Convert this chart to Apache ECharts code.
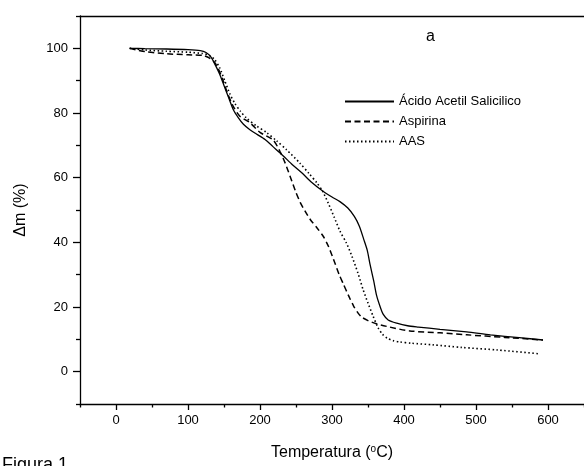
<!DOCTYPE html>
<html>
<head>
<meta charset="utf-8">
<script src="https://cdn.jsdelivr.net/npm/echarts@6/dist/echarts.min.js"></script>
<style>
html,body{margin:0;padding:0;background:#fff;}
#chart{width:584px;height:466px;}
</style>
</head>
<body>
<div id="chart"></div>
<script>
// ---- data ----
const seriesNames = ['Ácido Acetil Salicilico', 'Aspirina', 'AAS'];

const acidoT = [19, 40, 70, 100, 117, 125, 132, 138, 144, 150, 156, 163, 170, 177, 186, 195, 207, 218, 232, 245, 258, 272, 288, 300, 311, 322, 331, 338, 344, 349, 353, 358, 362, 367, 371, 378, 390, 405, 420, 450, 487, 520, 560, 593];
const acidoM = [100, 99.9, 99.8, 99.6, 99.3, 98.7, 97.3, 94.8, 92, 88.5, 85, 81, 78.5, 76.5, 74.8, 73.5, 71.8, 69.6, 66.8, 64, 61.5, 58.5, 55.7, 54, 52.6, 50.6, 48, 45, 41, 37.5, 33, 28, 23.5, 20, 17.8, 16, 15, 14.2, 13.8, 13.1, 12.3, 11.4, 10.5, 9.8];

const aspirinaT = [19, 40, 71, 100, 121, 130, 137, 142, 148, 155, 163, 172, 186, 200, 218, 228, 235, 242, 249, 256, 263, 270, 279, 288, 295, 302, 310, 316, 323, 330, 336, 341, 350, 362, 380, 408, 450, 487, 540, 593];
const aspirinaM = [100, 99, 98.3, 98, 97.8, 97, 95.6, 93.7, 90.5, 86, 82, 79, 77, 74, 71.7, 68, 64.5, 60.3, 56, 52.3, 49.5, 47, 44.5, 41.8, 38.8, 34.8, 30, 27, 23.5, 20.3, 18.2, 16.9, 15.8, 14.8, 13.8, 12.6, 12, 11.4, 10.6, 9.8];

const aasT = [19, 40, 70, 100, 120, 130, 137, 144, 151, 158, 165, 173, 181, 195, 209, 223, 237, 255, 268, 279, 287, 295, 303, 311, 320, 328, 336, 343, 350, 357, 364, 370, 377, 385, 394, 410, 440, 480, 530, 589];
const aasM = [100, 99.5, 99.1, 98.8, 98.4, 97.8, 96.5, 94, 90, 86, 83, 80.5, 78.5, 76, 74, 71.4, 68.6, 64.6, 61.3, 58.4, 55.8, 52, 47.8, 43.5, 39.8, 35.5, 30.5, 25.5, 21.2, 17.2, 13.6, 11.6, 10.3, 9.6, 9.2, 8.8, 8.3, 7.5, 6.7, 5.5];

const xTicks = [0, 100, 200, 300, 400, 500, 600];
const xMinorTicks = [-50, 50, 150, 250, 350, 450, 550, 650];
const yTicks = [0, 20, 40, 60, 80, 100];
const yMinorTicks = [-10, 10, 30, 50, 70, 90, 110];

// ---- chart ----
const zip = (xs, ys) => xs.map((x, i) => [x, ys[i]]);
const FONT = '"Liberation Sans", Arial, sans-serif';
const black = '#000';

const chart = echarts.init(document.getElementById('chart'), null, {renderer: 'canvas'});

const axisLineStyle = {color: black, width: 1.3};

chart.setOption({
  animation: false,
  backgroundColor: '#fff',
  grid: {left: 80, right: 0, top: 16, bottom: 60, containLabel: false},
  legend: {
    orient: 'vertical',
    left: 344,
    top: 95,
    itemWidth: 49,
    itemHeight: 12,
    itemGap: 7,
    padding: 0,
    itemStyle: {color: 'rgba(0,0,0,0)', borderWidth: 0, opacity: 0},
    textStyle: {fontFamily: FONT, fontSize: 13, color: black},
    data: seriesNames
  },
  graphic: [
    {type: 'text', left: 426, top: 29, style: {text: 'a', font: '16px ' + FONT, fill: black}},
    {type: 'text', left: 2, top: 456, style: {text: 'Figura 1', font: '18px ' + FONT, fill: black}}
  ],
  xAxis: [
    {
      type: 'value', min: -50, max: 650, position: 'bottom',
      axisLine: {show: true, onZero: false, lineStyle: axisLineStyle},
      axisTick: {show: true, length: 6, lineStyle: {color: black, width: 1.3}, customValues: xTicks},
      axisLabel: {show: true, customValues: xTicks, color: black, fontFamily: FONT, fontSize: 13, margin: 10},
      splitLine: {show: false},
      name: 'Temperatura ({sup|o}C)',
      nameLocation: 'middle',
      nameGap: 40,
      nameTextStyle: {
        fontFamily: FONT, fontSize: 16, color: black,
        rich: {sup: {fontFamily: FONT, fontSize: 10, color: black, verticalAlign: 'top', padding: [0, 0, 8, 0]}}
      }
    },
    {
      type: 'value', min: -50, max: 650, position: 'bottom',
      axisLine: {show: false, onZero: false},
      axisTick: {show: true, length: 3.5, lineStyle: {color: black, width: 1.3}, customValues: xMinorTicks},
      axisLabel: {show: false},
      splitLine: {show: false}
    },
    {
      type: 'value', min: -50, max: 650, position: 'top',
      axisLine: {show: true, onZero: false, lineStyle: axisLineStyle},
      axisTick: {show: false},
      axisLabel: {show: false},
      splitLine: {show: false}
    }
  ],
  yAxis: [
    {
      type: 'value', min: -10, max: 110, position: 'left',
      axisLine: {show: true, onZero: false, lineStyle: axisLineStyle},
      axisTick: {show: true, length: 7, lineStyle: {color: black, width: 1.3}, customValues: yTicks},
      axisLabel: {show: true, customValues: yTicks, color: black, fontFamily: FONT, fontSize: 13, margin: 12},
      splitLine: {show: false},
      name: 'Δm (%)',
      nameLocation: 'middle',
      nameRotate: 90,
      nameGap: 51,
      nameTextStyle: {fontFamily: FONT, fontSize: 16, color: black}
    },
    {
      type: 'value', min: -10, max: 110, position: 'left',
      axisLine: {show: false, onZero: false},
      axisTick: {show: true, length: 4, lineStyle: {color: black, width: 1.3}, customValues: yMinorTicks},
      axisLabel: {show: false},
      splitLine: {show: false}
    }
  ],
  series: [
    {
      name: seriesNames[0], type: 'line', data: zip(acidoT, acidoM),
      xAxisIndex: 0, yAxisIndex: 0,
      smooth: 0.25, showSymbol: false, symbol: 'none',
      lineStyle: {color: black, width: 1.3, type: 'solid'},
      itemStyle: {color: black}
    },
    {
      name: seriesNames[1], type: 'line', data: zip(aspirinaT, aspirinaM),
      xAxisIndex: 0, yAxisIndex: 0,
      smooth: 0.25, showSymbol: false, symbol: 'none',
      lineStyle: {color: black, width: 1.5, type: [6, 3.5]},
      itemStyle: {color: black}
    },
    {
      name: seriesNames[2], type: 'line', data: zip(aasT, aasM),
      xAxisIndex: 0, yAxisIndex: 0,
      smooth: 0.25, showSymbol: false, symbol: 'none',
      lineStyle: {color: black, width: 1.6, type: [1.5, 2.5]},
      itemStyle: {color: black}
    }
  ]
});
</script>
</body>
</html>
